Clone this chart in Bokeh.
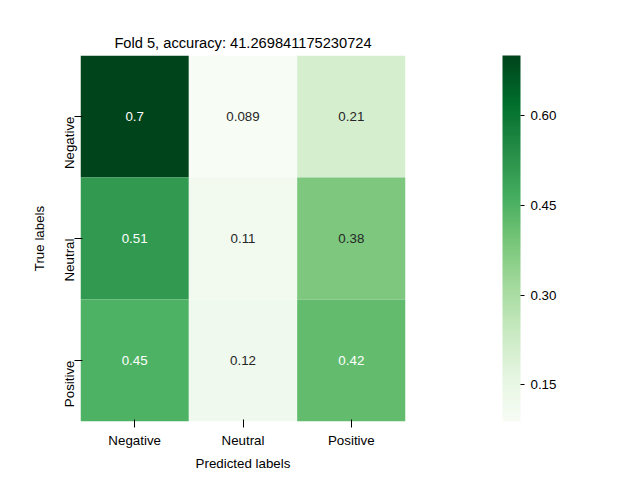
import numpy as np
from bokeh.plotting import figure
from bokeh.models import (ColumnDataSource, LinearColorMapper, ColorBar, FixedTicker,
                          PrintfTickFormatter)
from bokeh.palettes import Greens256
from bokeh.embed import file_html
from bokeh.resources import INLINE

labels = ["Negative", "Neutral", "Positive"]
true_labels = ["Negative", "Neutral", "Positive"]
matrix = [
    [0.7, 0.089, 0.21],
    [0.51, 0.11, 0.38],
    [0.45, 0.12, 0.42],
]
cbar_ticks = [0.15, 0.30, 0.45, 0.60]

xs, ys, vals, txt, tcol = [], [], [], [], []
for i, t in enumerate(true_labels):
    for j, pl in enumerate(labels):
        v = matrix[i][j]
        xs.append(pl)
        ys.append(t)
        vals.append(v)
        txt.append("%.2g" % v)
        tcol.append("white" if v > 0.4 else "#262626")
src = ColumnDataSource(dict(x=xs, y=ys, v=vals, t=txt, c=tcol))

mapper = LinearColorMapper(palette=list(Greens256[::-1]), low=min(vals), high=max(vals))

p = figure(width=624, height=464, x_range=labels, y_range=list(reversed(true_labels)),
           output_backend="svg", toolbar_location=None,
           title="Fold 5, accuracy: 41.269841175230724",
           min_border_left=80, min_border_top=55, min_border_bottom=40,
           min_border_right=10)
p.frame_width = 325
p.frame_height = 366
p.rect("x", "y", 1, 1, source=src, fill_color={"field": "v", "transform": mapper}, line_color=None)
p.text("x", "y", text="t", source=src, text_color="c", text_align="center",
       text_baseline="middle", text_font_size="10pt")

p.title.align = "center"
p.title.text_font_size = "11pt"
p.title.text_font_style = "normal"
p.title.text_color = "black"
p.grid.grid_line_color = None
p.outline_line_color = None
p.axis.axis_line_color = None
p.axis.major_tick_line_color = "black"
p.axis.major_label_text_font_size = "10pt"
p.axis.major_label_text_color = "black"
p.axis.axis_label_text_font_size = "10pt"
p.axis.axis_label_text_font_style = "normal"
p.axis.axis_label_text_color = "black"
p.xaxis.axis_label = "Predicted labels"
p.yaxis.axis_label = "True labels"
p.yaxis.major_label_orientation = np.pi / 2

cb = ColorBar(color_mapper=mapper, ticker=FixedTicker(ticks=cbar_ticks), width=18,
              height=366, formatter=PrintfTickFormatter(format="%.2f"),
              major_label_text_font_size="10pt", major_label_text_color="black",
              major_tick_line_color="black",
              major_tick_in=0, major_tick_out=4, bar_line_color=None,
              padding=0, margin=0, label_standoff=6, location=(422, 0))
p.add_layout(cb, "center")
p.min_border_right = 209

open("out.html", "w").write(file_html(p, INLINE))
